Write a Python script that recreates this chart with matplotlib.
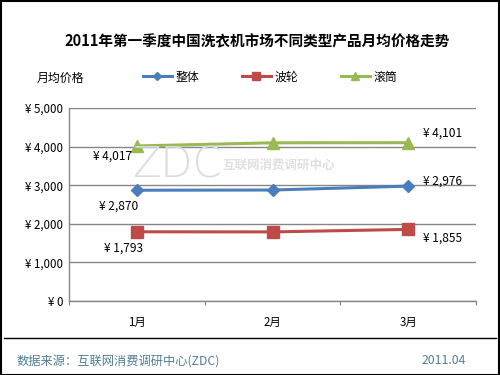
import matplotlib
matplotlib.use("Agg")
import matplotlib.pyplot as plt
from matplotlib.patches import Rectangle
from matplotlib.lines import Line2D

plt.rcParams['font.family'] = ['Noto Sans CJK SC', 'DejaVu Sans']

months = ['1月', '2月', '3月']
overall = [2870, 2875, 2976]
pulsator = [1793, 1790, 1855]
drum = [4017, 4098, 4101]
series_names = ['整体', '波轮', '滚筒']
yticks = [0, 1000, 2000, 3000, 4000, 5000]

colors = ['#4a7ebb', '#be4b48', '#98b954']
markers = ['D', 's', '^']
msizes = [6, 9, 8]

fig = plt.figure(figsize=(5, 3.75), dpi=100)
W, H = 500, 375
ax = fig.add_axes([69 / W, 1 - 301 / H, (476 - 69) / W, (301 - 108) / H])

x = list(range(len(months)))
for vals, c, m, ms, name in zip([overall, pulsator, drum], colors, markers, msizes, series_names):
    ax.plot(x, vals, color=c, lw=2.2, marker=m, markersize=ms, label=name, zorder=3)

ax.set_xlim(-0.5, 2.5)
ax.set_ylim(0, 5000)
ax.set_yticks(yticks)
ax.set_yticklabels([f'¥ {v:,}' for v in yticks], fontsize=8.3)
ax.set_xticks([-0.5, 0.5, 1.5, 2.5], minor=False)
ax.set_xticklabels([])
ax.set_xticks(x, minor=True)
ax.set_xticklabels(months, minor=True, fontsize=8.3)
ax.tick_params(axis='x', which='major', length=3, color='#808080', direction='out')
ax.tick_params(axis='x', which='minor', length=0, pad=11)
ax.tick_params(axis='y', length=0, pad=4)
ax.grid(axis='y', color='#868686', lw=1)
ax.set_axisbelow(True)
for s in ['top', 'right']:
    ax.spines[s].set_visible(False)
for s in ['left', 'bottom']:
    ax.spines[s].set_color('#868686')
    ax.spines[s].set_linewidth(1)

# data labels (offsets in pixels)
lab_kw = dict(fontsize=8.6, color='black', textcoords='offset pixels', va='center')
ax.annotate(f'¥ {drum[0]:,}', (0, drum[0]), xytext=(-5, -10), ha='right', **lab_kw)
ax.annotate(f'¥ {drum[2]:,}', (2, drum[2]), xytext=(15, 10), ha='left', **lab_kw)
ax.annotate(f'¥ {overall[0]:,}', (0, overall[0]), xytext=(1, -16), ha='right', **lab_kw)
ax.annotate(f'¥ {overall[2]:,}', (2, overall[2]), xytext=(15, 5), ha='left', **lab_kw)
ax.annotate(f'¥ {pulsator[0]:,}', (0, pulsator[0]), xytext=(6, -16), ha='right', **lab_kw)
ax.annotate(f'¥ {pulsator[2]:,}', (2, pulsator[2]), xytext=(15, -9), ha='left', **lab_kw)

# watermark
fig.text(177 / W, 1 - 165 / H, 'ZDC', fontsize=30, color='#dcdcdc', ha='center', va='center',
         family=['DejaVu Sans'], fontweight='light', zorder=0)
fig.text(222 / W, 1 - 165 / H, '互联网消费调研中心', fontsize=9, color='#e0e0e0', ha='left', va='center',
         fontweight='bold', zorder=0)

# title
fig.text(257 / W, 1 - 41 / H, '2011年第一季度中国洗衣机市场不同类型产品月均价格走势', fontsize=10.5,
         fontweight='bold', ha='center', va='center')
fig.text(37 / W, 1 - 78 / H, '月均价格', fontsize=8.6, ha='left', va='center')

# legend
handles = [Line2D([0], [0], color=c, lw=2.2, marker=m, markersize=ms * 0.7) for c, m, ms in zip(colors, markers, msizes)]
leg = fig.legend(handles, series_names, loc='center', bbox_to_anchor=(270 / W, 1 - 77 / H), ncol=3,
                 frameon=False, fontsize=8.6, handlelength=2.4, columnspacing=3.6, handletextpad=0.3)

# footer
fig.add_artist(Line2D([4 / W, 496 / W], [1 - 338 / H, 1 - 338 / H], color='black', lw=1))
fig.text(17 / W, 1 - 361 / H, '数据来源：互联网消费调研中心(ZDC)', fontsize=8.8, color='#4f7f94', ha='left', va='center')
fig.text(466 / W, 1 - 361 / H, '2011.04', fontsize=8.8, color='#4f7f94', ha='right', va='center')

# outer border
fig.add_artist(Rectangle((0.5 / W, 0.5 / H), 1 - 1.5 / W, 1 - 1.5 / H, transform=fig.transFigure,
                         fill=False, edgecolor='black', lw=1.5))

fig.savefig('out.png', dpi=100)
